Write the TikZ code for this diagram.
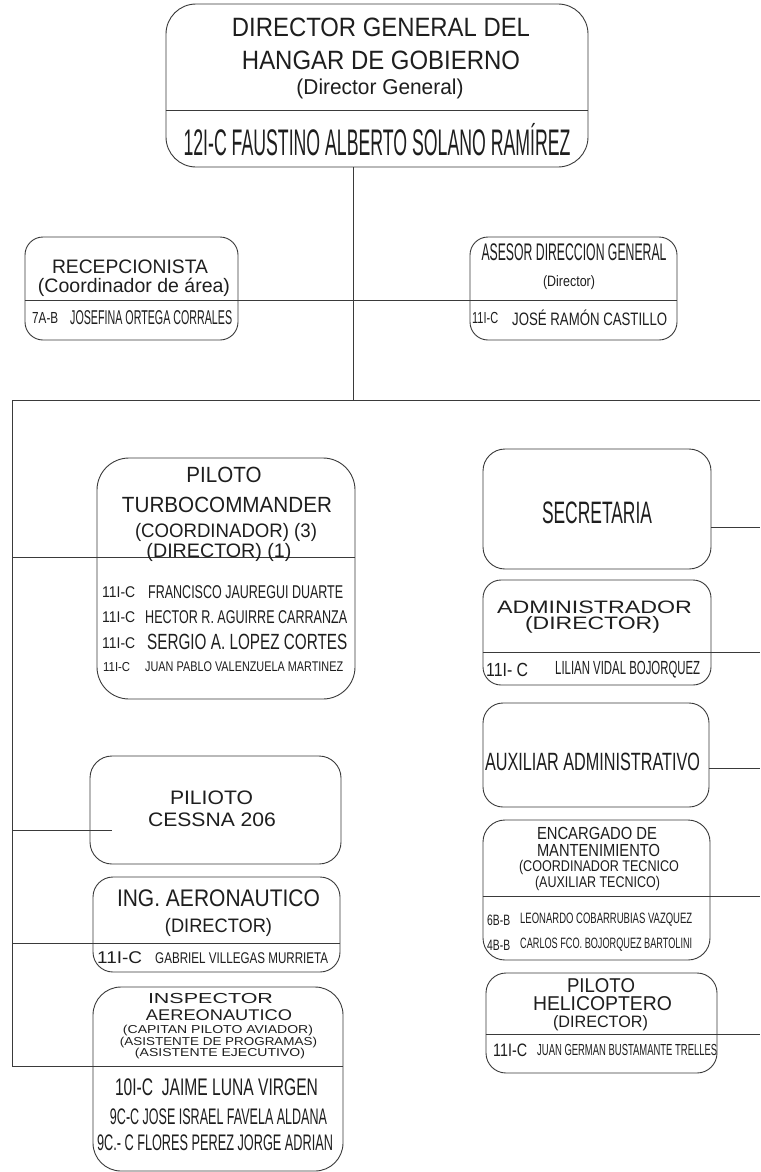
\documentclass[tikz,border=0pt]{standalone}
\usepackage{fontspec}
\usepackage{graphicx}
\setmainfont{Liberation Sans}
\definecolor{ln}{HTML}{3A3A3A}
\definecolor{txt}{HTML}{1E1E1E}
\newcommand\tx[3]{{\fontsize{#1}{#1}\selectfont\resizebox{#2pt}{\height}{#3}}}
\tikzset{
  box/.style={draw=ln, line width=0.9pt, inner sep=0pt},
  t/.style={inner sep=0pt, text=txt},
  tl/.style={inner sep=0pt, text=txt, anchor=west},
  con/.style={draw=ln, line width=0.9pt}
}
\begin{document}
\begin{tikzpicture}[x=1pt,y=-1pt]
\useasboundingbox[fill=white] (0,0) rectangle (760,1172);
% boxes
\node[box, rounded corners=30pt, minimum width=422pt, minimum height=163pt] (top) at (377,85.5) {};
\node[box, rounded corners=18pt, minimum width=213pt, minimum height=103pt] (rec) at (131.5,288.5) {};
\node[box, rounded corners=18pt, minimum width=207pt, minimum height=103pt] (ases) at (573.5,288.5) {};
\node[box, rounded corners=32pt, minimum width=258pt, minimum height=241pt] (turbo) at (226,578.5) {};
\node[box, rounded corners=22pt, minimum width=251pt, minimum height=108pt] (cess) at (215.5,810) {};
\node[box, rounded corners=20pt, minimum width=247pt, minimum height=95pt] (ing) at (216.5,924.5) {};
\node[box, rounded corners=28pt, minimum width=250pt, minimum height=184pt] (insp) at (218,1079) {};
\node[box, rounded corners=22pt, minimum width=228pt, minimum height=120pt] (secr) at (597,509) {};
\node[box, rounded corners=18pt, minimum width=228pt, minimum height=105pt] (adm) at (597,632.5) {};
\node[box, rounded corners=20pt, minimum width=226pt, minimum height=104pt] (aux) at (596,755) {};
\node[box, rounded corners=22pt, minimum width=227pt, minimum height=140pt] (enc) at (596.5,890) {};
\node[box, rounded corners=20pt, minimum width=231pt, minimum height=100pt] (heli) at (601.5,1023) {};
% coordinates
\coordinate (topdiv) at (0,110);
\coordinate (rd) at (0,300);
\coordinate (jx) at (353,400);
\coordinate (bl) at (12,400);
\coordinate (br) at (760,400);
\coordinate (ib) at (12,1066);
\coordinate (redge) at (760,0);
\coordinate (cend) at (112,830);
% top box divider
\draw[con] (top.west |- topdiv) -- (top.east |- topdiv);
% main trunk
\draw[con] (top.south -| jx) -- (jx);
\draw[con] (rec.west |- rd) -- (ases.east |- rd);
\draw[con] (br) -- (bl) -- (ib);
% left branches
\draw[con] (bl |- 0,557) -- (turbo.east |- 0,557);
\draw[con] (bl |- cend) -- (cend);
\draw[con] (bl |- 0,943) -- (ing.east |- 0,943);
\draw[con] (ib) -- (insp.east |- ib);
% right branches
\draw[con] (secr.east |- 0,527) -- (redge |- 0,527);
\draw[con] (adm.west |- 0,652) -- (redge |- 0,652);
\draw[con] (aux.east |- 0,768) -- (redge |- 0,768);
\draw[con] (enc.west |- 0,896) -- (redge |- 0,896);
\draw[con] (heli.west |- 0,1034) -- (redge |- 0,1034);
% top texts
\node[t] (t1) at (381,27) {\tx{26.5}{298}{DIRECTOR GENERAL DEL}};
\node[t] (t2) at (381,60) {\tx{26.5}{278}{HANGAR DE GOBIERNO}};
\node[t] (t3) at (380,89) {\tx{21.5}{167}{(Director General)}};
\node[t] (t4) at (377,140) {\tx{37}{387}{12I-C FAUSTINO ALBERTO SOLANO RAMÍREZ}};
% recepcionista
\node[t] (r1) at (130,267) {\tx{19.5}{156}{RECEPCIONISTA}};
\node[t] (r2) at (134,287) {\tx{19.5}{192}{(Coordinador de área)}};
\node[tl] (r3) at (32,318) {\tx{16}{26}{7A-B}};
\node[tl] (r4) at (70,318) {\tx{20}{162}{JOSEFINA ORTEGA CORRALES}};
% asesor
\node[t] (a1) at (574,252) {\tx{24}{185}{ASESOR DIRECCION GENERAL}};
\node[t] (a2) at (569,283) {\tx{15}{52}{(Director)}};
\node[tl] (a3) at (472,318) {\tx{16}{26}{11I-C}};
\node[tl] (a4) at (512,318) {\tx{18}{155}{JOSÉ RAMÓN CASTILLO}};
% turbocommander
\node[t] (p1) at (224,475) {\tx{22}{75}{PILOTO}};
\node[t] (p2) at (227,505) {\tx{22}{210}{TURBOCOMMANDER}};
\node[t] (p3) at (226,532) {\tx{19.5}{182}{(COORDINADOR) (3)}};
\node[t] (p4) at (219,552) {\tx{19.5}{145}{(DIRECTOR) (1)}};
\node[tl] (p5a) at (102,592) {\tx{15.5}{33}{11I-C}};
\node[tl] (p5b) at (148,592) {\tx{18.5}{195}{FRANCISCO JAUREGUI DUARTE}};
\node[tl] (p6a) at (102,617) {\tx{15.5}{33}{11I-C}};
\node[tl] (p6b) at (145,617) {\tx{18.5}{202}{HECTOR R. AGUIRRE CARRANZA}};
\node[tl] (p7a) at (102,643) {\tx{15.5}{33}{11I-C}};
\node[tl] (p7b) at (147,642) {\tx{22}{200}{SERGIO A. LOPEZ CORTES}};
\node[tl] (p8a) at (103,667) {\tx{13}{27}{11I-C}};
\node[tl] (p8b) at (145,667) {\tx{14}{198}{JUAN PABLO VALENZUELA MARTINEZ}};
% cessna
\node[t] (c1) at (211.5,798) {\tx{19.5}{83}{PILIOTO}};
\node[t] (c2) at (212,820) {\tx{19.5}{128}{CESSNA 206}};
% ing
\node[t] (i1) at (218.5,898) {\tx{24}{203}{ING. AERONAUTICO}};
\node[t] (i2) at (218.5,927) {\tx{19.5}{107}{(DIRECTOR)}};
\node[tl] (i3) at (97,958) {\tx{17}{45}{11I-C}};
\node[tl] (i4) at (155,958) {\tx{15.5}{173}{GABRIEL VILLEGAS MURRIETA}};
% inspector
\node[t] (n1) at (210.5,998) {\tx{14.5}{125}{INSPECTOR}};
\node[t] (n2) at (219,1015) {\tx{15.5}{146}{AEREONAUTICO}};
\node[t] (n3) at (218,1031) {\tx{11.5}{190}{(CAPITAN PILOTO AVIADOR)}};
\node[t] (n4) at (218.5,1043) {\tx{11.5}{197}{(ASISTENTE DE PROGRAMAS)}};
\node[t] (n5) at (220,1054) {\tx{11.5}{170}{(ASISTENTE EJECUTIVO)}};
\node[t] (n6) at (216.5,1087) {\tx{24}{203}{10I-C\ \ JAIME LUNA VIRGEN}};
\node[t] (n7) at (218.5,1117) {\tx{22.5}{217}{9C-C JOSE ISRAEL FAVELA ALDANA}};
\node[t] (n8) at (215,1143) {\tx{22.5}{236}{9C.- C FLORES PEREZ JORGE ADRIAN}};
% secretaria
\node[t] (s1) at (597,513) {\tx{31}{110}{SECRETARIA}};
% administrador
\node[t] (d1) at (594.5,607) {\tx{18}{195}{ADMINISTRADOR}};
\node[t] (d2) at (592.5,625) {\tx{18}{135}{(DIRECTOR)}};
\node[tl] (d3) at (486,670) {\tx{19}{42}{11I- C}};
\node[tl] (d4) at (555,670) {\tx{19}{145}{LILIAN VIDAL BOJORQUEZ}};
% auxiliar
\node[t] (x1) at (592.5,762) {\tx{25}{215}{AUXILIAR ADMINISTRATIVO}};
% encargado
\node[t] (e1) at (597,833) {\tx{17.5}{120}{ENCARGADO DE}};
\node[t] (e2) at (598.5,850) {\tx{17.5}{123}{MANTENIMIENTO}};
\node[t] (e3) at (599,867) {\tx{15.5}{160}{(COORDINADOR TECNICO}};
\node[t] (e4) at (597.5,883) {\tx{15.5}{125}{(AUXILIAR TECNICO)}};
\node[tl] (e5) at (487,920) {\tx{15}{23}{6B-B}};
\node[tl] (e6) at (520,920) {\tx{15}{172}{LEONARDO COBARRUBIAS VAZQUEZ}};
\node[tl] (e7) at (487,945) {\tx{15}{23}{4B-B}};
\node[tl] (e8) at (520,945) {\tx{15}{172}{CARLOS FCO. BOJORQUEZ BARTOLINI}};
% helicoptero
\node[t] (h1) at (601,985.5) {\tx{20}{68}{PILOTO}};
\node[t] (h2) at (602.5,1003.5) {\tx{20}{139}{HELICOPTERO}};
\node[t] (h3) at (600.5,1023.5) {\tx{16.5}{95}{(DIRECTOR)}};
\node[tl] (h4) at (493,1050) {\tx{18}{34}{11I-C}};
\node[tl] (h5) at (537,1050) {\tx{16}{180}{JUAN GERMAN BUSTAMANTE TRELLES}};
\end{tikzpicture}
\end{document}
